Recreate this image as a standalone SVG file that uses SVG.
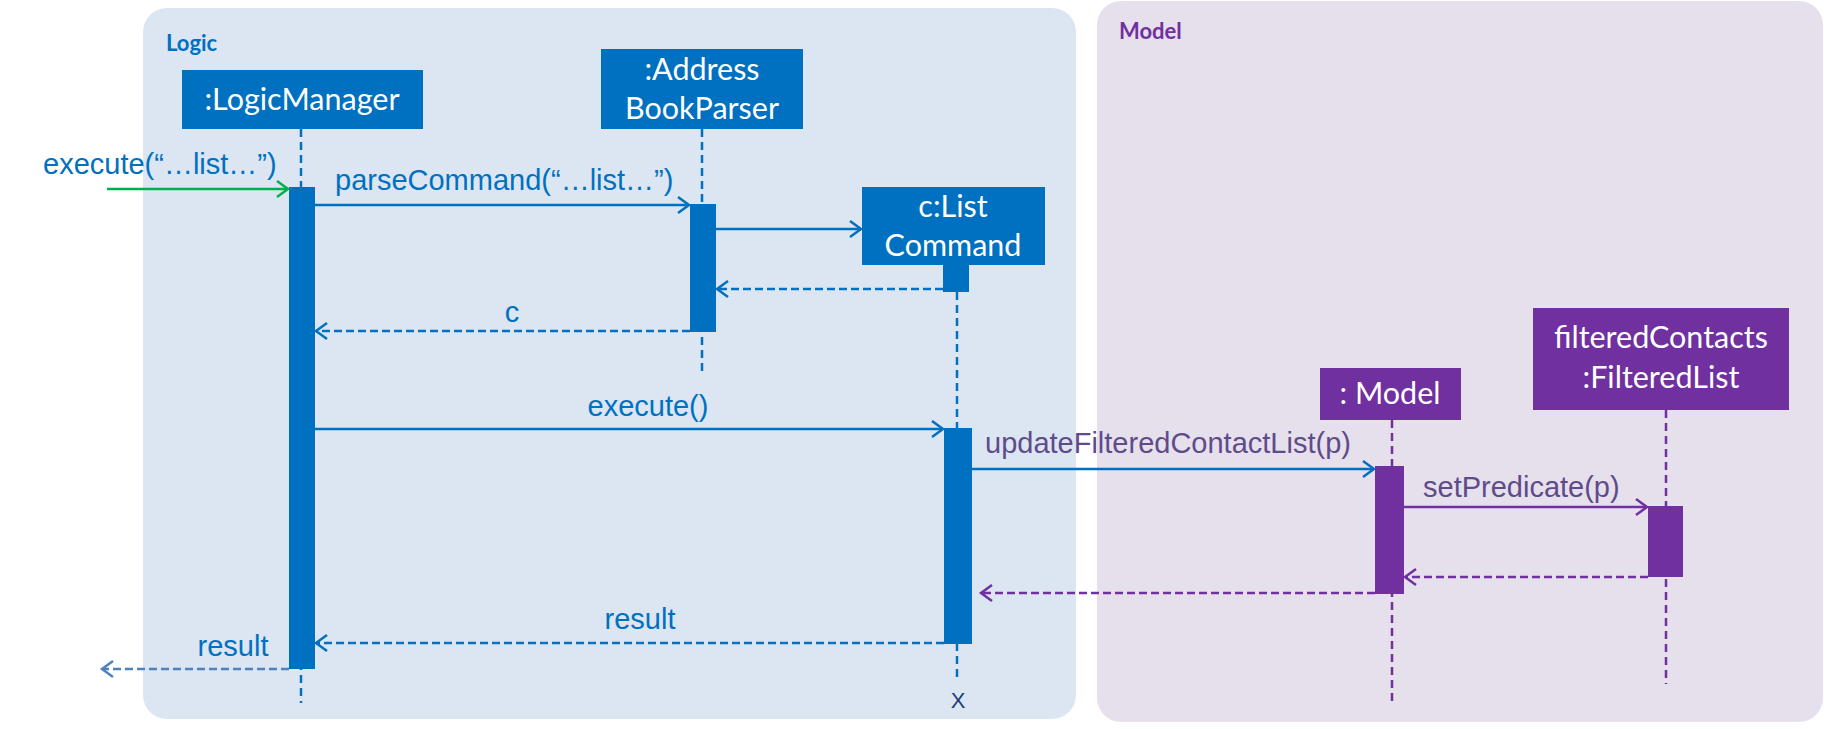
<svg xmlns="http://www.w3.org/2000/svg" width="1824" height="729" viewBox="0 0 1824 729">
<style>
.lbl{font-family:"Liberation Sans",Arial,sans-serif;font-size:29px;fill:#0070C0}
.plbl{font-family:"Liberation Sans",Arial,sans-serif;font-size:29px;fill:#5F4B8B}
.box{font-family:Lato,"Noto Sans",sans-serif;font-size:30.5px;fill:#FFFFFF;text-anchor:middle}
.title{font-family:Lato,"Noto Sans",sans-serif;font-size:22px;font-weight:bold}
.bl{stroke:#0070C0;stroke-width:2.5;fill:none}
.pl{stroke:#7030A0;stroke-width:2.5;fill:none}
.life{stroke-dasharray:8 5}
.ret{stroke-dasharray:8 4}
</style>
<defs>
<marker id="ab" markerUnits="userSpaceOnUse" markerWidth="20" markerHeight="20" refX="14" refY="10" orient="auto"><path d="M3,2 L14,10 L3,18" fill="none" stroke="#0070C0" stroke-width="2.5"/></marker>
<marker id="ap" markerUnits="userSpaceOnUse" markerWidth="20" markerHeight="20" refX="14" refY="10" orient="auto"><path d="M3,2 L14,10 L3,18" fill="none" stroke="#7030A0" stroke-width="2.5"/></marker>
<marker id="ag" markerUnits="userSpaceOnUse" markerWidth="20" markerHeight="20" refX="14" refY="10" orient="auto"><path d="M3,2 L14,10 L3,18" fill="none" stroke="#00B050" stroke-width="2.5"/></marker>
<marker id="al" markerUnits="userSpaceOnUse" markerWidth="20" markerHeight="20" refX="14" refY="10" orient="auto"><path d="M3,2 L14,10 L3,18" fill="none" stroke="#4F81BD" stroke-width="2.5"/></marker>
</defs>

<g id="logic-panel">
<rect x="143" y="8" width="933" height="711" rx="24" fill="#DCE6F2"/>
<text class="title" x="166" y="51" fill="#0070C0">Logic</text>
</g>
<g id="model-panel">
<rect x="1097" y="1" width="726" height="721" rx="24" fill="#E6E0EC"/>
<text class="title" x="1119" y="39" fill="#7030A0">Model</text>
</g>

<g id="lifelines">
<line class="bl life" x1="301" y1="129" x2="301" y2="703"/>
<line class="bl life" x1="702" y1="129" x2="702" y2="373"/>
<line class="bl life" x1="957" y1="292" x2="957" y2="680"/>
<line class="pl life" x1="1392" y1="420" x2="1392" y2="702"/>
<line class="pl life" x1="1666" y1="410" x2="1666" y2="684"/>
</g>

<g id="LogicManager">
<rect x="182" y="70" width="241" height="59" fill="#0070C0"/>
<text class="box" x="302" y="110">:LogicManager</text>
<rect x="289" y="187" width="26" height="482" fill="#0070C0"/>
</g>
<g id="AddressBookParser">
<rect x="601" y="49" width="202" height="80" fill="#0070C0"/>
<text class="box" x="702" y="80">:Address</text>
<text class="box" x="702" y="119">BookParser</text>
<rect x="690" y="204" width="26" height="128" fill="#0070C0"/>
</g>
<g id="ListCommand">
<rect x="862" y="187" width="183" height="78" fill="#0070C0"/>
<text class="box" x="953" y="217">c:List</text>
<text class="box" x="953" y="256">Command</text>
<rect x="943" y="265" width="26" height="27" fill="#0070C0"/>
<rect x="944" y="428" width="28" height="216" fill="#0070C0"/>
<text x="958" y="708" font-family="Liberation Sans,Arial,sans-serif" font-size="22" fill="#1F3A7A" text-anchor="middle">X</text>
</g>
<g id="Model">
<rect x="1320" y="368" width="141" height="52" fill="#7030A0"/>
<text class="box" x="1390" y="404">: Model</text>
<rect x="1375" y="466" width="29" height="128" fill="#7030A0"/>
</g>
<g id="FilteredList">
<rect x="1533" y="308" width="256" height="102" fill="#7030A0"/>
<text class="box" x="1661" y="348">filteredContacts</text>
<text class="box" x="1661" y="388">:FilteredList</text>
<rect x="1648" y="506" width="35" height="71" fill="#7030A0"/>
</g>

<g id="connectors">
<line x1="107" y1="189" x2="288" y2="189" stroke="#00B050" stroke-width="2.5" marker-end="url(#ag)"/>
<text class="lbl" x="43" y="174">execute(“…list…”)</text>

<line class="bl" x1="315" y1="205" x2="689" y2="205" marker-end="url(#ab)"/>
<text class="lbl" x="335" y="190">parseCommand(“…list…”)</text>

<line class="bl" x1="716" y1="229" x2="861" y2="229" marker-end="url(#ab)"/>

<line class="bl ret" x1="943" y1="289" x2="717" y2="289" marker-end="url(#ab)"/>

<line class="bl ret" x1="690" y1="331" x2="316" y2="331" marker-end="url(#ab)"/>
<text class="lbl" x="512" y="322" text-anchor="middle">c</text>

<line class="bl" x1="315" y1="429" x2="943" y2="429" marker-end="url(#ab)"/>
<text class="lbl" x="648" y="416" text-anchor="middle">execute()</text>

<line class="bl" x1="972" y1="469" x2="1374" y2="469" marker-end="url(#ab)"/>
<text class="plbl" x="985" y="453">updateFilteredContactList(p)</text>

<line class="pl" x1="1404" y1="507" x2="1647" y2="507" marker-end="url(#ap)"/>
<text class="plbl" x="1423" y="497">setPredicate(p)</text>

<line class="pl ret" x1="1648" y1="577" x2="1405" y2="577" marker-end="url(#ap)"/>

<line class="pl ret" x1="1375" y1="593" x2="981" y2="593" marker-end="url(#ap)"/>

<line class="bl ret" x1="944" y1="643" x2="316" y2="643" marker-end="url(#ab)"/>
<text class="lbl" x="640" y="629" text-anchor="middle">result</text>

<line x1="289" y1="669" x2="102" y2="669" stroke="#4F81BD" stroke-width="2.5" stroke-dasharray="8 4" marker-end="url(#al)"/>
<text class="lbl" x="233" y="656" text-anchor="middle">result</text>
</g>
</svg>
